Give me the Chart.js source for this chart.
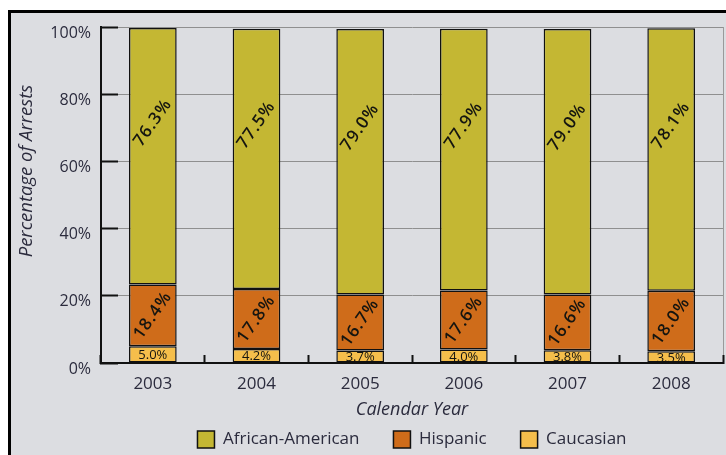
<!DOCTYPE html>
<html>
<head>
<meta charset="utf-8">
<script src="https://cdn.jsdelivr.net/npm/chart.js@4/dist/chart.umd.min.js"></script>
<style>
  html, body { margin: 0; padding: 0; background: #fff; width: 726px; height: 455px; overflow: hidden; }
  #frame { position: absolute; left: 8px; top: 10px; width: 730px; height: 460px; border: 3px solid #000; background: #dcdde1; }
  #wrap { position: absolute; left: 0; top: 0; width: 726px; height: 455px; }
</style>
</head>
<body>
<div id="frame"></div>
<div id="wrap"><canvas id="chart"></canvas></div>
<script>
"use strict";
// values (percent of arrests)
const years = ["2003", "2004", "2005", "2006", "2007", "2008"];
const africanAmerican = [76.3, 77.5, 79.0, 77.9, 79.0, 78.1];
const hispanic = [18.4, 17.8, 16.7, 17.6, 16.6, 18.0];
const caucasian = [5.0, 4.2, 3.7, 4.0, 3.8, 3.5];
const yTicks = [0, 20, 40, 60, 80, 100];

const FONT = "'Open Sans', sans-serif";
const TXT = "#2b2b3d";

// labels inside the bar segments + rotated y title
const segLabels = {
    id: "segLabels",
    afterDatasetsDraw(chart) {
        let ctx = chart.ctx;
        chart.data.datasets.forEach(function(ds, i){
            let meta = chart.getDatasetMeta(i);
            meta.data.forEach(function(bar, j){
                let txt = ds.data[j].toFixed(1) + "%";
                ctx.save();
                ctx.fillStyle = "#151510";
                ctx.textAlign = "center";
                ctx.textBaseline = "middle";
                if (ds.label == "Caucasian") {
                    ctx.font = "500 13px " + FONT;
                    ctx.fillText(txt, bar.x, (bar.y + bar.base) / 2 + 1);
                } else {
                    let y = (bar.y + bar.base) / 2;
                    if (ds.label == "African-American")
                        y = bar.y + (bar.base - bar.y) * 0.37;
                    ctx.translate(bar.x, y);
                    ctx.rotate(-55 * Math.PI / 180);
                    ctx.font = "600 17px " + FONT;
                    ctx.letterSpacing = "1px";
                    ctx.fillText(txt, 0, 0);
                }
                ctx.restore();
            });
        });
    },
    afterDraw(chart) {
        let ctx = chart.ctx;
        ctx.save();
        ctx.translate(27, 171);
        ctx.rotate(-Math.PI / 2);
        ctx.font = "italic 18.5px " + FONT;
        ctx.fillStyle = TXT;
        ctx.textAlign = "center";
        ctx.textBaseline = "middle";
        ctx.fillText("Percentage of Arrests", 0, 0);
        ctx.restore();
    }
};

function serie(label, data, color) {
    return {
        label: label,
        data: data,
        backgroundColor: color,
        borderColor: "#111",
        borderWidth: 1.5,
        borderSkipped: false,
        categoryPercentage: 1,
        barPercentage: 0.46
    };
}

let chart = new Chart(document.getElementById("chart"), {
    type: "bar",
    data: {
        labels: years,
        datasets: [
            serie("Caucasian", caucasian, "#f5be4b"),
            serie("Hispanic", hispanic, "#cf6c1a"),
            serie("African-American", africanAmerican, "#c4b733")
        ]
    },
    plugins: [segLabels],
    options: {
        responsive: true,
        maintainAspectRatio: false,
        animation: false,
        layout: { padding: { top: 27, left: 0, right: 3, bottom: -3 } },
        plugins: {
            tooltip: { enabled: false },
            legend: {
                position: "bottom",
                fullSize: false,
                reverse: true,
                labels: {
                    boxWidth: 17,
                    boxHeight: 17,
                    padding: 34,
                    color: TXT,
                    font: { family: FONT, size: 17 }
                }
            }
        },
        scales: {
            x: {
                stacked: true,
                grid: {
                    offset: true,
                    color: c => c.type == "scale" ? "#9a9a9a" : "rgba(0,0,0,0)",
                    tickColor: "#111",
                    tickLength: -8,
                    tickWidth: 2
                },
                border: { color: "#111", width: 2 },
                ticks: { color: TXT, font: { family: FONT, size: 17 }, padding: 19 },
                title: {
                    display: true,
                    text: "Calendar Year",
                    color: TXT,
                    font: { family: FONT, size: 18, style: "italic" },
                    padding: { top: 0, bottom: -24 }
                },
                afterFit: s => { s.height = 34; }
            },
            y: {
                stacked: true,
                min: 0,
                max: 100,
                afterBuildTicks: s => { s.ticks = yTicks.map(v => ({ value: v })); },
                grid: {
                    color: "#8f8f8f",
                    lineWidth: 1,
                    tickColor: "#111",
                    tickLength: -17,
                    tickWidth: 2
                },
                border: { color: "#111", width: 2 },
                ticks: {
                    color: TXT,
                    font: { family: FONT, size: 16 },
                    padding: 27,
                    labelOffset: 6,
                    callback: v => v + "%"
                },
                afterFit: s => { s.width = 101; s.paddingTop = 0; s.paddingBottom = 0; }
            }
        }
    }
});
</script>
</body>
</html>
